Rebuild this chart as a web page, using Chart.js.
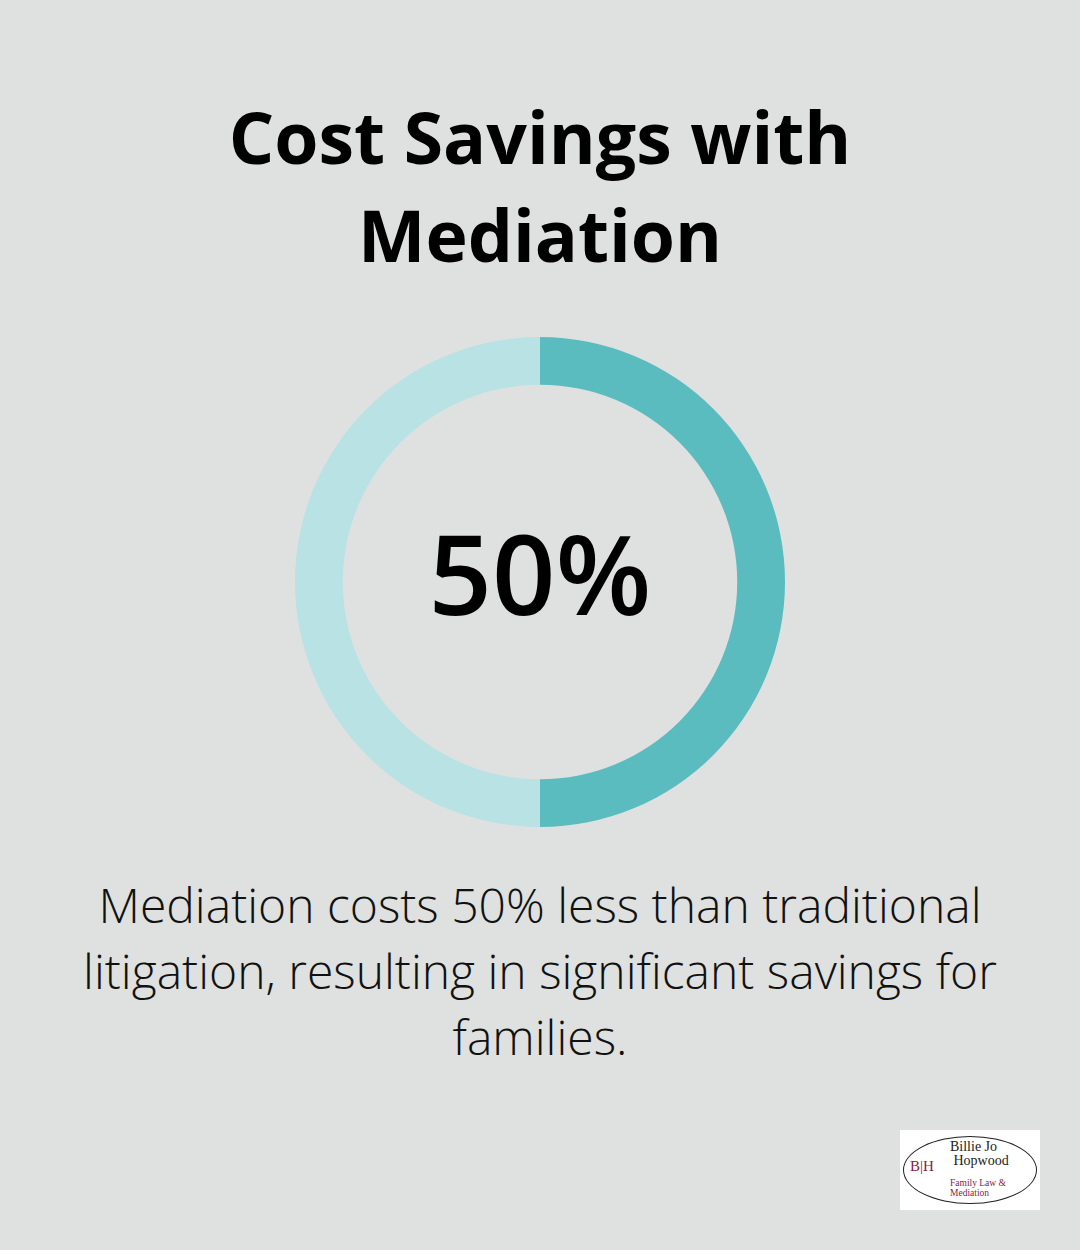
<!DOCTYPE html>
<html><head><meta charset="utf-8">
<script src="https://cdn.jsdelivr.net/npm/chart.js@4"></script>
<style>
body{margin:0;width:1080px;height:1250px;background:#dfe1e0;font-family:"Open Sans",sans-serif;position:relative;overflow:hidden}
h1{position:absolute;top:88px;left:0;width:1080px;margin:0;text-align:center;font-weight:700;font-size:71.5px;line-height:98px;color:#000}
#wrap{position:absolute;left:295px;top:337px;width:490px;height:490px}
#center{position:absolute;left:295px;top:327px;width:490px;height:490px;display:flex;align-items:center;justify-content:center;font-size:111px;font-weight:600;color:#000}
p{position:absolute;top:872px;left:40px;width:1000px;margin:0;text-align:center;font-weight:300;font-size:48px;line-height:66px;color:#111}
#logo{position:absolute;left:900px;top:1130px;width:140px;height:80px;background:#fff}
#logo .el{position:absolute;left:3px;top:6px;width:132px;height:66px;border:1.5px solid #222;border-radius:50%}
#logo .t{position:absolute;left:50px;top:10px;font-family:"Liberation Serif",serif;font-size:14px;line-height:14px;color:#222}
#logo .s{position:absolute;left:50px;top:48px;font-family:"Liberation Serif",serif;font-size:9.5px;line-height:10px;color:#8a1a4a}
#logo .m{position:absolute;left:10px;top:28px;font-family:"Liberation Serif",serif;font-size:15px;color:#8a1a4a}
</style></head><body>
<h1>Cost Savings with<br>Mediation</h1>
<div id="wrap"><canvas id="c"></canvas></div>
<div id="center">50%</div>
<p>Mediation costs 50% less than traditional litigation, resulting in significant savings for families.</p>
<div id="logo"><div class="el"></div><div class="m">B|H</div><div class="t">Billie Jo<br>&nbsp;Hopwood</div><div class="s">Family Law &amp;<br>Mediation</div></div>
<script>
const labels = ['Mediation savings', 'Remaining cost'];
const values = [50, 50];
const colors = ['#5bbcc0', '#b8e2e4'];
new Chart(document.getElementById('c'), {
  type: 'doughnut',
  data: { labels, datasets: [{ data: values, backgroundColor: colors, borderWidth: 0 }] },
  options: {
    responsive: true, maintainAspectRatio: false, animation: false,
    cutout: '80.5%',
    plugins: { legend: { display: false }, tooltip: { enabled: false } }
  }
});
</script>
</body></html>
